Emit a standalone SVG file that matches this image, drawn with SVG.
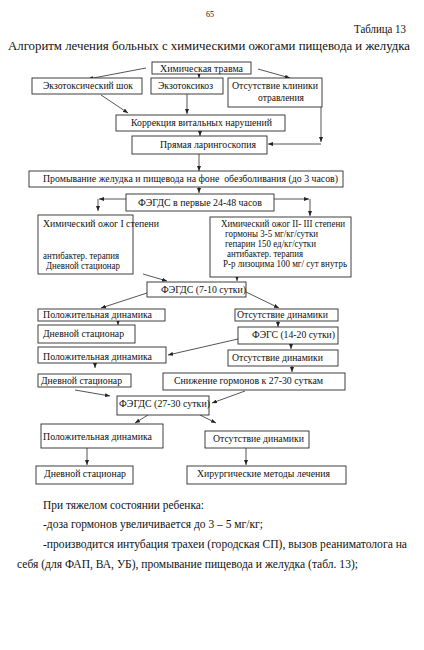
<svg xmlns="http://www.w3.org/2000/svg" width="424" height="650" viewBox="0 0 424 650">
<style>
text{font-family:"Liberation Serif","Times New Roman",serif;fill:#111}
.b{fill:#fff;stroke:#2a2a2a;stroke-width:0.9}
.t{font-size:10.5px}
.s{font-size:10px}
.p{font-size:11.5px}
.c{fill:none;stroke:#2a2a2a;stroke-width:0.8;marker-end:url(#ah)}
</style>
<defs>
<marker id="ah" viewBox="0 0 5 4" refX="5" refY="2" markerWidth="5" markerHeight="4" markerUnits="userSpaceOnUse" orient="auto">
<path d="M0,0 L5,2 L0,4 z" fill="#222"/>
</marker>
</defs>
<rect width="424" height="650" fill="#fff"/>
<text x="210" y="17" font-size="8" text-anchor="middle">65</text>
<text x="354" y="33" font-size="12.5" textLength="52" lengthAdjust="spacingAndGlyphs">Таблица 13</text>
<text x="8" y="50" font-size="13" textLength="402" lengthAdjust="spacingAndGlyphs">Алгоритм лечения больных с химическими ожогами пищевода и желудка</text>

<g id="connectors">
<line class="c" x1="146" y1="68" x2="88" y2="79"/>
<line class="c" x1="199" y1="74" x2="199" y2="78"/>
<line class="c" x1="258" y1="69" x2="290" y2="78"/>
<line class="c" x1="101" y1="95" x2="128" y2="113"/>
<line class="c" x1="187" y1="94" x2="187" y2="114"/>
<line class="c" x1="321" y1="107" x2="321" y2="142"/>
<line class="c" x1="321" y1="144" x2="268" y2="144"/>
<line class="c" x1="200" y1="131" x2="200" y2="136"/>
<line class="c" x1="199" y1="154" x2="199" y2="171"/>
<line class="c" x1="199" y1="187" x2="199" y2="193"/>
<line class="c" x1="126" y1="199" x2="99" y2="199"/>
<line class="c" x1="98" y1="199" x2="98" y2="211"/>
<line class="c" x1="274" y1="199" x2="309" y2="199"/>
<line class="c" x1="310" y1="199" x2="310" y2="216"/>
<line class="c" x1="143" y1="274" x2="167" y2="281"/>
<line class="c" x1="237" y1="277" x2="237" y2="281"/>
<line class="c" x1="147" y1="293" x2="101" y2="308"/>
<line class="c" x1="246" y1="292" x2="279" y2="308"/>
<line class="c" x1="118" y1="321" x2="118" y2="325"/>
<line class="c" x1="278" y1="321" x2="278" y2="327"/>
<line class="c" x1="246" y1="337" x2="246" y2="341"/>
<line class="c" x1="238" y1="339" x2="168" y2="355"/>
<line class="c" x1="291" y1="344" x2="291" y2="349"/>
<line class="c" x1="95" y1="363" x2="95" y2="368"/>
<line class="c" x1="292" y1="366" x2="292" y2="372"/>
<line class="c" x1="75" y1="390" x2="110" y2="396"/>
<line class="c" x1="245" y1="391" x2="212" y2="403"/>
<line class="c" x1="148" y1="415" x2="135" y2="423"/>
<line class="c" x1="200" y1="415" x2="216" y2="423"/>
<line class="c" x1="87" y1="448" x2="87" y2="465"/>
<line class="c" x1="246" y1="448" x2="246" y2="465"/>
</g>

<g id="n_trauma"><rect class="b" x="152" y="62" width="99" height="12"/><text class="t" x="160" y="71.5" textLength="83" lengthAdjust="spacingAndGlyphs">Химическая травма</text></g>
<g id="n_shock"><rect class="b" x="32" y="78" width="110" height="16"/><text class="t" x="43" y="89" textLength="90" lengthAdjust="spacingAndGlyphs">Экзотоксический шок</text></g>
<g id="n_exotox"><rect class="b" x="151" y="78" width="72" height="16"/><text class="t" x="158" y="89" textLength="55" lengthAdjust="spacingAndGlyphs">Экзотоксикоз</text></g>
<g id="n_noclinic"><rect class="b" x="228" y="78" width="94" height="29"/><text class="t" x="232" y="89" textLength="86" lengthAdjust="spacingAndGlyphs">Отсутствие клиники</text><text class="t" x="258" y="101" textLength="46" lengthAdjust="spacingAndGlyphs">отравления</text></g>
<g id="n_correction"><rect class="b" x="116" y="115" width="169" height="16"/><text class="t" x="131" y="126" textLength="141" lengthAdjust="spacingAndGlyphs">Коррекция витальных нарушений</text></g>
<g id="n_laryngo"><rect class="b" x="132" y="136" width="135" height="18"/><text class="t" x="160" y="148" textLength="96" lengthAdjust="spacingAndGlyphs">Прямая ларингоскопия</text></g>
<g id="n_lavage"><rect class="b" x="29" y="171" width="314" height="16"/><text class="t" x="43" y="182" textLength="295" lengthAdjust="spacingAndGlyphs" xml:space="preserve">Промывание желудка и пищевода на фоне  обезболивания (до 3 часов)</text></g>
<g id="n_fegds1"><rect class="b" x="126" y="194" width="148" height="17"/><text class="t" x="138" y="206" textLength="124" lengthAdjust="spacingAndGlyphs">ФЭГДС в первые 24-48 часов</text></g>
<g id="n_burn1"><rect class="b" x="38" y="215" width="95" height="59"/><text class="t" x="43" y="227" textLength="116" lengthAdjust="spacingAndGlyphs">Химический ожог I степени</text><text class="t" x="43" y="259" textLength="76" lengthAdjust="spacingAndGlyphs">антибактер. терапия</text><text class="t" x="46" y="269" textLength="74" lengthAdjust="spacingAndGlyphs">Дневной стационар</text></g>
<g id="n_burn23"><rect class="b" x="210" y="217" width="141" height="60"/><text class="s" x="221" y="227" textLength="124" lengthAdjust="spacingAndGlyphs">Химический ожог II- III степени</text><text class="s" x="225" y="237" textLength="93" lengthAdjust="spacingAndGlyphs">гормоны 3-5 мг/кг/сутки</text><text class="s" x="225" y="247" textLength="91" lengthAdjust="spacingAndGlyphs">гепарин 150 ед/кг/сутки</text><text class="s" x="227" y="257" textLength="76" lengthAdjust="spacingAndGlyphs">антибактер. терапия</text><text class="s" x="223" y="267" textLength="124" lengthAdjust="spacingAndGlyphs">Р-р лизоцима 100 мг/ сут внутрь</text></g>
<g id="n_fegds2"><rect class="b" x="147" y="282" width="99" height="15"/><text class="t" x="161" y="293" textLength="85" lengthAdjust="spacingAndGlyphs">ФЭГДС (7-10 сутки)</text></g>
<g id="n_pos1"><rect class="b" x="38" y="309" width="127" height="12"/><text class="t" x="43" y="318" textLength="109" lengthAdjust="spacingAndGlyphs">Положительная динамика</text></g>
<g id="n_noch1"><rect class="b" x="235" y="309" width="103" height="12"/><text class="t" x="237" y="318" textLength="91" lengthAdjust="spacingAndGlyphs">Отсутствие динамики</text></g>
<g id="n_day1"><rect class="b" x="38" y="325" width="97" height="18"/><text class="t" x="43" y="337" textLength="81" lengthAdjust="spacingAndGlyphs">Дневной стационар</text></g>
<g id="n_fegs"><rect class="b" x="238" y="327" width="100" height="17"/><text class="t" x="252" y="338" textLength="83" lengthAdjust="spacingAndGlyphs">ФЭГС (14-20 сутки)</text></g>
<g id="n_pos2"><rect class="b" x="38" y="347" width="128" height="16"/><text class="t" x="43" y="360" textLength="109" lengthAdjust="spacingAndGlyphs">Положительная динамика</text></g>
<g id="n_noch2"><rect class="b" x="228" y="350" width="110" height="16"/><text class="t" x="232" y="361" textLength="91" lengthAdjust="spacingAndGlyphs">Отсутствие динамики</text></g>
<g id="n_day2"><rect class="b" x="38" y="374" width="93" height="13"/><text class="t" x="41" y="384" textLength="81" lengthAdjust="spacingAndGlyphs">Дневной стационар</text></g>
<g id="n_reduce"><rect class="b" x="163" y="373" width="182" height="17"/><text class="t" x="174" y="384" textLength="149" lengthAdjust="spacingAndGlyphs">Снижение гормонов к 27-30 суткам</text></g>
<g id="n_fegds3"><rect class="b" x="117" y="396" width="92" height="19"/><text class="t" x="119" y="407" textLength="91" lengthAdjust="spacingAndGlyphs">ФЭГДС (27-30 сутки)</text></g>
<g id="n_pos3"><rect class="b" x="41" y="424" width="122" height="24"/><text class="t" x="43" y="440" textLength="109" lengthAdjust="spacingAndGlyphs">Положительная динамика</text></g>
<g id="n_noch3"><rect class="b" x="205" y="431" width="104" height="17"/><text class="t" x="213" y="442" textLength="91" lengthAdjust="spacingAndGlyphs">Отсутствие динамики</text></g>
<g id="n_day3"><rect class="b" x="36" y="466" width="97" height="18"/><text class="t" x="44" y="477" textLength="82" lengthAdjust="spacingAndGlyphs">Дневной стационар</text></g>
<g id="n_surgery"><rect class="b" x="187" y="466" width="159" height="18"/><text class="t" x="197" y="477" textLength="133" lengthAdjust="spacingAndGlyphs">Хирургические методы лечения</text></g>

<text class="p" x="43" y="509" textLength="161" lengthAdjust="spacingAndGlyphs">При тяжелом состоянии ребенка:</text>
<text class="p" x="43" y="528" textLength="220" lengthAdjust="spacingAndGlyphs">-доза гормонов увеличивается до 3 – 5 мг/кг;</text>
<text class="p" x="43" y="548" textLength="364" lengthAdjust="spacingAndGlyphs">-производится интубация трахеи (городская СП), вызов реаниматолога на</text>
<text class="p" x="17" y="568" textLength="341" lengthAdjust="spacingAndGlyphs">себя (для ФАП, ВА, УБ), промывание пищевода и желудка (табл. 13);</text>
</svg>
